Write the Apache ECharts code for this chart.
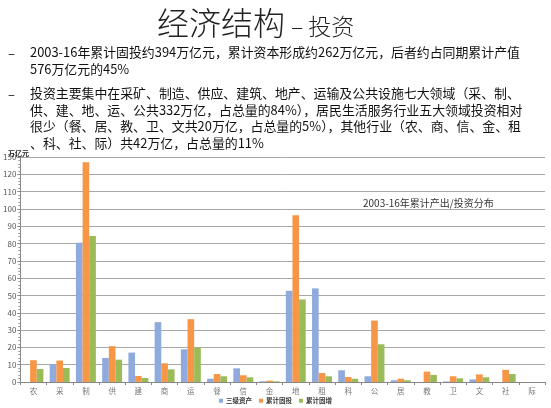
<!DOCTYPE html>
<html><head><meta charset="utf-8">
<script src="https://cdn.jsdelivr.net/npm/echarts@6/dist/echarts.min.js"></script>
<style>
html,body{margin:0;padding:0;background:#fff;}
#wrap{position:relative;width:551px;height:408px;overflow:hidden;font-family:"Noto Sans CJK SC","Noto Sans",sans-serif;}
#chart{position:absolute;left:0;top:0;width:551px;height:408px;}
.t{position:absolute;white-space:nowrap;color:#111;}
#title{left:157px;top:-2px;font-size:32px;font-weight:300;color:#222;}
#title span{font-size:23px;margin-left:6px;}
.dash{position:absolute;left:8px;font-size:13px;}
.line{position:absolute;left:30px;font-size:12.9px;line-height:16.5px;white-space:nowrap;}
</style></head>
<body><div id="wrap"><div id="chart"></div>
<div id="title" class="t">经济结构<span>–&nbsp;投资</span></div>
<div class="t dash" style="top:43px">–</div>
<div class="line t" style="top:44px">2003-16年累计固投约394万亿元，累计资本形成约262万亿元，后者约占同期累计产值<br>576万亿元的45%</div>
<div class="t dash" style="top:84px">–</div>
<div class="line t" style="top:85px">投资主要集中在采矿、制造、供应、建筑、地产、运输及公共设施七大领域（采、制、<br>供、建、地、运、公共332万亿，占总量的84%），居民生活服务行业五大领域投资相对<br>很少（餐、居、教、卫、文共20万亿，占总量的5%），其他行业（农、商、信、金、租<br>、科、社、际）共42万亿，占总量的11%</div>
</div>
<script>
const categories = ['农','采','制','供','建','商','运','餐','信','金','地','租','科','公','居','教','卫','文','社','际'];
const seriesNames = ['三级资产','累计固投','累计固增'];
const assets = [0, 10.4, 80.5, 13.9, 17.0, 34.6, 18.9, 1.9, 7.9, 0.4, 52.7, 54.1, 6.8, 3.3, 1.0, 0, 0.3, 1.5, 0, 0];
const investment = [12.6, 12.4, 126.9, 20.7, 3.5, 10.8, 36.3, 4.6, 3.9, 0.8, 96.4, 5.2, 2.9, 35.5, 1.9, 6.0, 3.3, 4.4, 7.0, 0];
const increment = [7.5, 8.1, 84.4, 12.9, 2.3, 7.3, 19.9, 3.3, 2.7, 0.4, 47.7, 3.3, 1.9, 21.8, 1.0, 4.1, 2.1, 2.7, 4.6, 0];
const yTicks = [0,10,20,30,40,50,60,70,80,90,100,110,120,130];
const colors = ['#8FAADC','#F79646','#9BBB59'];

const chart = echarts.init(document.getElementById('chart'), null, {renderer:'canvas'});
const data = [assets, investment, increment];
chart.setOption({
  animation:false,
  color: colors,
  textStyle:{fontFamily:'"Noto Sans CJK SC","Noto Sans",sans-serif'},
  title:[{
    text:'2003-16年累计产出/投资分布',
    left:358, top:193,
    textStyle:{fontSize:10, fontWeight:'normal', color:'#333'}
  },{
    text:'万亿元',
    left:3, top:145,
    textStyle:{fontSize:7, fontWeight:'bold', color:'#222'}
  }],
  legend:{
    data: seriesNames,
    bottom:-1, left:'center',
    itemWidth:4, itemHeight:4, itemGap:7,
    icon:'rect',
    textStyle:{fontSize:6.5, fontWeight:'bold', color:'#333', padding:[0,0,0,-2]}
  },
  grid:{left:19, right:6, top:157, bottom:26, containLabel:false},
  xAxis:{
    type:'category', data: categories,
    axisLine:{lineStyle:{color:'#888'}},
    axisTick:{show:true, length:3, lineStyle:{color:'#888'}},
    axisLabel:{fontSize:7.5, color:'#777', margin:5}
  },
  yAxis:{
    type:'value', min:yTicks[0], max:yTicks[yTicks.length-1], interval:10,
    axisLine:{show:true, lineStyle:{color:'#888'}},
    axisTick:{show:true, length:3, lineStyle:{color:'#888'}},
    minorTick:{show:true, splitNumber:5, length:2, lineStyle:{color:'#999'}},
    axisLabel:{fontSize:8, color:'#555', margin:4},
    splitLine:{lineStyle:{color:'#A8A8A8', width:1}}
  },
  series: seriesNames.map((n,i)=>({
    name:n, type:'bar', data:data[i],
    barGap:'0%', barCategoryGap:'24%'
  }))
});
</script></body></html>
